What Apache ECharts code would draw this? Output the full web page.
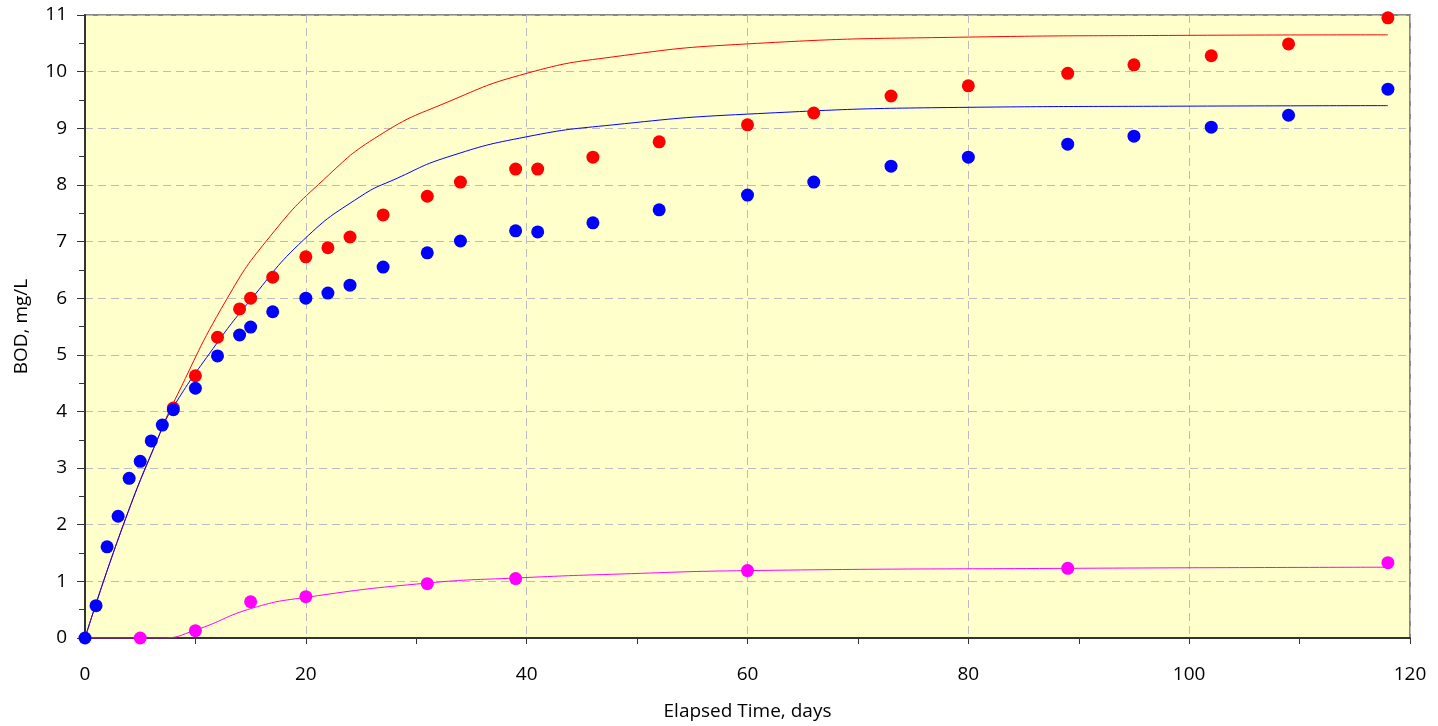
<!DOCTYPE html>
<html>
<head>
<meta charset="utf-8">
<script src="https://cdn.jsdelivr.net/npm/echarts@6/dist/echarts.min.js"></script>
<style>
    html, body { margin: 0; padding: 0; background: #fff; }
    #chart { width: 1438px; height: 726px; }
</style>
</head>
<body>
<div id="chart"></div>
<script>
    // measured BOD, mg/L
    const daysBlue = [0, 1, 2, 3, 4, 5, 6, 7, 8, 10, 12, 14, 15, 17, 20, 22, 24, 27, 31, 34, 39, 41, 46, 52, 60, 66, 73, 80, 89, 95, 102, 109, 118];
    const bodBlue = [0, 0.57, 1.61, 2.15, 2.82, 3.12, 3.48, 3.76, 4.03, 4.41, 4.98, 5.35, 5.49, 5.76, 6.00, 6.09, 6.23, 6.55, 6.80, 7.01, 7.19, 7.17, 7.33, 7.56, 7.82, 8.05, 8.33, 8.49, 8.72, 8.86, 9.02, 9.23, 9.69];

    const daysRed = [8, 10, 12, 14, 15, 17, 20, 22, 24, 27, 31, 34, 39, 41, 46, 52, 60, 66, 73, 80, 89, 95, 102, 109, 118];
    const bodRed = [4.06, 4.63, 5.31, 5.81, 6.00, 6.37, 6.73, 6.89, 7.08, 7.47, 7.80, 8.05, 8.28, 8.28, 8.49, 8.76, 9.06, 9.27, 9.57, 9.75, 9.97, 10.12, 10.28, 10.49, 10.95];

    const daysMag = [5, 10, 15, 20, 31, 39, 60, 89, 118];
    const bodMag = [0, 0.13, 0.64, 0.73, 0.96, 1.05, 1.19, 1.23, 1.33];

    // fitted curves
    const fitRedDays = [0, 3.4, 6.8, 8, 12.8, 16.8, 21.6, 26.7, 32.8, 40, 47.8, 60, 80, 99, 118];
    const fitRed = [0, 1.96, 3.62, 4.15, 5.97, 7.1, 8.09, 8.88, 9.46, 9.97, 10.26, 10.49, 10.61, 10.64, 10.65];

    const fitBlueDays = [0, 3.4, 6.8, 8, 11.3, 15, 19.8, 24.9, 28.3, 32.8, 40, 47.8, 60, 80, 99, 118];
    const fitBlue = [0, 1.96, 3.62, 4.08, 5.03, 5.97, 7.03, 7.79, 8.12, 8.49, 8.85, 9.06, 9.25, 9.37, 9.39, 9.40];

    const fitMagDays = [0, 7, 10, 15.2, 20.1, 31, 39.1, 48.5, 60, 89, 118];
    const fitMag = [0, 0, 0.14, 0.53, 0.72, 0.97, 1.06, 1.13, 1.19, 1.23, 1.25];

    const font = "Open Sans";

    function pairs(xs, ys) {
        return xs.map((x, i) => [x, ys[i]]);
    }

    function fitLine(xs, ys, color) {
        return {
            type: "line",
            data: pairs(xs, ys),
            smooth: 0.5,
            showSymbol: false,
            lineStyle: { color: color, width: 1 },
            z: 2
        };
    }

    function dots(xs, ys, color) {
        return {
            type: "scatter",
            data: pairs(xs, ys),
            symbolSize: 13,
            itemStyle: { color: color, opacity: 1 },
            z: 3
        };
    }

    let chart = echarts.init(document.getElementById("chart"));
    let option = {
        animation: false,
        grid: {
            left: 85, right: 28, top: 15, bottom: 88,
            outerBoundsMode: "none",
            show: true,
            backgroundColor: "#FFFFCC",
            borderColor: "#888",
            borderWidth: 2
        },
        xAxis: {
            type: "value",
            min: 0, max: 120, interval: 20,
            name: "Elapsed Time, days",
            nameLocation: "middle",
            nameGap: 64,
            nameTextStyle: { fontFamily: font, fontSize: 19, color: "#000" },
            axisLine: { show: true, onZero: false, lineStyle: { color: "#333", width: 2 } },
            axisTick: { show: true, length: 6, lineStyle: { color: "#333" } },
            minorTick: { show: true, splitNumber: 2, length: 6, lineStyle: { color: "#333" } },
            axisLabel: { fontFamily: font, fontSize: 19, color: "#000", margin: 27 },
            splitLine: { show: true, lineStyle: { color: "#bbb", type: [8, 5] } }
        },
        yAxis: {
            type: "value",
            min: 0, max: 11, interval: 1,
            name: "BOD, mg/L",
            nameLocation: "middle",
            nameGap: 54,
            nameTextStyle: { fontFamily: font, fontSize: 19, color: "#000" },
            axisLine: { show: true, onZero: false, lineStyle: { color: "#333", width: 2 } },
            axisTick: { show: true, length: 8, lineStyle: { color: "#333" } },
            minorTick: { show: true, splitNumber: 2, length: 6, lineStyle: { color: "#333" } },
            axisLabel: { fontFamily: font, fontSize: 19, color: "#000", margin: 18 },
            splitLine: { show: true, lineStyle: { color: "#bbb", type: [8, 5] } }
        },
        series: [
            fitLine(fitRedDays, fitRed, "#FF0000"),
            fitLine(fitBlueDays, fitBlue, "#0000FF"),
            fitLine(fitMagDays, fitMag, "#FF00FF"),
            dots(daysRed, bodRed, "#FF0000"),
            dots(daysBlue, bodBlue, "#0000FF"),
            dots(daysMag, bodMag, "#FF00FF")
        ]
    };
    chart.setOption(option);
</script>
</body>
</html>
